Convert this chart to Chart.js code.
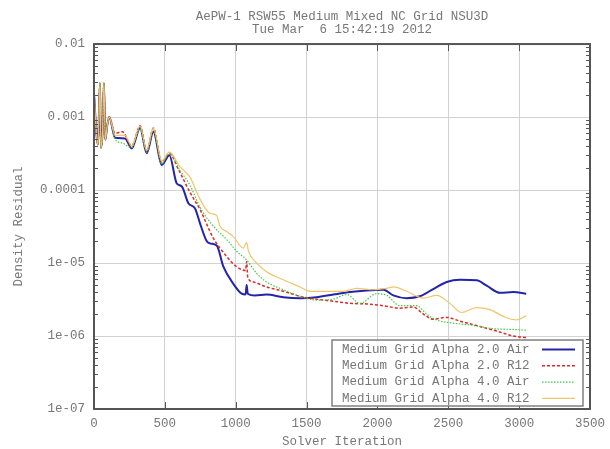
<!DOCTYPE html>
<html>
<head>
<meta charset="utf-8">
<title>Density residual history</title>
<script src="https://cdn.jsdelivr.net/npm/chart.js@4.4.1/dist/chart.umd.min.js"></script>
<style>
  html, body { margin: 0; padding: 0; background: #fff; }
</style>
</head>
<body>
<canvas id="residual-chart" width="610" height="449"></canvas>
<script>
//======================= DATA =======================//
const titleLines = ['AePW-1 RSW55 Medium Mixed NC Grid NSU3D', 'Tue Mar  6 15:42:19 2012'];
const seriesLabels = [
    'Medium Grid Alpha 2.0 Air',
    'Medium Grid Alpha 2.0 R12',
    'Medium Grid Alpha 4.0 Air',
    'Medium Grid Alpha 4.0 R12'
];
const xTickStep = 500;
const xMax = 3500;
const yTickValues = [1e-7, 1e-6, 1e-5, 1e-4, 1e-3, 1e-2];
const yTickLabels = ['1e-07', '1e-06', '1e-05', '0.0001', '0.001', '0.01'];

// start-up transient, the four runs sit on top of each other here
const startIter = [0, 19, 28, 42, 49, 60, 70, 80, 92, 108];
const startRes = [2.1e-3, 5.4e-4, 4.2e-4, 2.9e-3, 3.8e-4, 6.0e-4, 2.9e-3, 4.9e-4, 7.4e-4, 1.0e-3];

const airA2Iter = [148, 219, 266, 325, 372, 419, 478, 532, 584, 620, 666, 713, 748, 795, 818, 866, 913, 983, 1042, 1070, 1077, 1085,
    1136, 1218, 1336, 1454, 1571, 1689, 1807, 1924, 2042, 2112, 2206, 2300, 2394, 2489, 2582, 2700, 2771, 2865, 2959, 3050];
const airA2Res = [5.2e-4, 5.1e-4, 3.7e-4, 7.1e-4, 3.2e-4, 6.3e-4, 2.2e-4, 3.0e-4, 1.23e-4, 1.12e-4, 6.6e-5, 5.6e-5, 3.5e-5, 2.0e-5,
    1.86e-5, 1.74e-5, 8.9e-6, 5.2e-6, 3.8e-6, 3.7e-6, 5.0e-6, 3.8e-6, 3.6e-6, 3.7e-6, 3.4e-6, 3.3e-6, 3.4e-6, 3.7e-6, 4.0e-6,
    4.2e-6, 4.3e-6, 3.6e-6, 3.3e-6, 3.5e-6, 4.4e-6, 5.5e-6, 5.9e-6, 5.8e-6, 4.9e-6, 3.9e-6, 4.0e-6, 3.8e-6];

const r12A2Iter = [148, 200, 266, 325, 372, 419, 478, 532, 594, 677, 748, 842, 936, 1007, 1070, 1077, 1085, 1124, 1218, 1336, 1454,
    1571, 1689, 1807, 1924, 2042, 2159, 2253, 2324, 2394, 2489, 2582, 2723, 2841, 2959, 3050];
const r12A2Res = [6.0e-4, 6.3e-4, 4.0e-4, 7.6e-4, 3.4e-4, 7.1e-4, 2.4e-4, 3.2e-4, 1.95e-4, 9.3e-5, 5.4e-5, 2.2e-5, 1.23e-5, 8.9e-6,
    7.9e-6, 1.05e-5, 6.4e-6, 5.5e-6, 4.7e-6, 4.1e-6, 3.5e-6, 3.2e-6, 3.0e-6, 2.8e-6, 2.75e-6, 2.6e-6, 2.4e-6, 2.5e-6, 2.0e-6,
    1.7e-6, 1.8e-6, 1.6e-6, 1.35e-6, 1.17e-6, 1.0e-6, 9.5e-7];

const airA4Iter = [148, 200, 266, 325, 372, 419, 478, 532, 606, 677, 748, 842, 936, 1007, 1077, 1148, 1218, 1336, 1454, 1571, 1689,
    1783, 1877, 1995, 2066, 2159, 2277, 2347, 2418, 2535, 2676, 2818, 2959, 3050];
const airA4Res = [5.0e-4, 4.4e-4, 3.8e-4, 6.9e-4, 3.3e-4, 6.6e-4, 2.3e-4, 3.2e-4, 1.86e-4, 1.17e-4, 5.8e-5, 3.2e-5, 2.1e-5, 1.45e-5,
    1.1e-5, 7.2e-6, 5.5e-6, 4.3e-6, 3.5e-6, 3.1e-6, 3.2e-6, 3.7e-6, 2.8e-6, 3.8e-6, 3.6e-6, 2.6e-6, 2.6e-6, 2.0e-6, 1.66e-6,
    1.5e-6, 1.4e-6, 1.26e-6, 1.23e-6, 1.2e-6];

const r12A4Iter = [148, 219, 266, 325, 372, 419, 478, 532, 606, 677, 748, 818, 865, 889, 936, 983, 1054, 1077, 1090, 1148, 1218,
    1336, 1454, 1524, 1642, 1760, 1854, 1971, 2066, 2113, 2206, 2324, 2418, 2512, 2594, 2700, 2794, 2888, 2983, 3050];
const r12A4Res = [5.6e-4, 5.6e-4, 4.0e-4, 7.6e-4, 3.5e-4, 7.1e-4, 2.5e-4, 3.3e-4, 2.1e-4, 1.5e-4, 7.5e-5, 4.8e-5, 4.5e-5, 3.2e-5,
    2.7e-5, 2.3e-5, 1.6e-5, 1.9e-5, 1.45e-5, 1.0e-5, 7.6e-6, 5.9e-6, 4.7e-6, 4.1e-6, 4.1e-6, 4.1e-6, 4.5e-6, 4.3e-6, 4.5e-6,
    4.7e-6, 4.1e-6, 3.3e-6, 3.6e-6, 2.8e-6, 2.1e-6, 2.45e-6, 2.3e-6, 1.86e-6, 1.66e-6, 1.9e-6];

//======================= STYLE =======================//
const monoFont = { family: "'Liberation Mono', 'DejaVu Sans Mono', monospace", size: 12.5, lineHeight: 1.2 };
const textColor = '#777777';
const gridColor = '#d2d2d2';
const frameColor = '#555555';

function toPoints(iters, res){
    const pts = [];
    for(let i = 0; i < startIter.length; i++){
        pts.push({ x: startIter[i], y: startRes[i] });
    }
    for(let i = 0; i < iters.length; i++){
        pts.push({ x: iters[i], y: res[i] });
    }
    return pts;
}

//======================= PLUGINS =======================//
// border round the plot plus the small log ticks on both sides
const frameTicks = {
    id: 'frameTicks',
    afterDatasetsDraw(chart){
        const { ctx, chartArea: a, scales } = chart;
        const yScale = scales.y;
        ctx.save();
        ctx.strokeStyle = frameColor;
        ctx.lineWidth = 1;
        ctx.beginPath();
        for(let e = -7; e < -2; e++){
            for(let k = 2; k < 10; k++){
                const y = Math.round(yScale.getPixelForValue(k * Math.pow(10, e))) + 0.5;
                ctx.moveTo(a.left, y); ctx.lineTo(a.left + 4, y);
                ctx.moveTo(a.right, y); ctx.lineTo(a.right - 4, y);
            }
        }
        for(let v = 0; v <= xMax; v += xTickStep){
            const x = Math.round(scales.x.getPixelForValue(v)) + 0.5;
            ctx.moveTo(x, a.top); ctx.lineTo(x, a.top + 7);
            ctx.moveTo(x, a.bottom); ctx.lineTo(x, a.bottom - 7);
        }
        ctx.stroke();
        ctx.lineWidth = 2;
        ctx.strokeRect(a.left, a.top, a.right - a.left, a.bottom - a.top);
        ctx.restore();
    }
};

// key box in the lower right corner: label first, line sample after it
const boxLegend = {
    id: 'boxLegend',
    afterDraw(chart){
        const { ctx, chartArea: a } = chart;
        const w = 251, h = 66;
        const x0 = a.right - 7 - w;
        const y0 = a.bottom - 3 - h;
        ctx.save();
        ctx.fillStyle = '#fff';
        ctx.fillRect(x0, y0, w, h);
        ctx.strokeStyle = '#808080';
        ctx.lineWidth = 1.5;
        ctx.strokeRect(x0, y0, w, h);
        ctx.font = monoFont.size + 'px ' + monoFont.family;
        ctx.textBaseline = 'middle';
        chart.data.datasets.forEach(function(ds, i){
            const y = y0 + 9.5 + i * 16.3;
            ctx.fillStyle = textColor;
            ctx.fillText(ds.label, x0 + 10, y);
            ctx.strokeStyle = ds.borderColor;
            ctx.lineWidth = ds.borderWidth;
            ctx.setLineDash(ds.borderDash || []);
            ctx.beginPath();
            ctx.moveTo(x0 + 210, y);
            ctx.lineTo(x0 + 243, y);
            ctx.stroke();
        });
        ctx.restore();
    }
};

//======================= CHART =======================//
const ctx = document.getElementById('residual-chart').getContext('2d');
const residualChart = new Chart(ctx, {
    type: 'line',
    data: {
        datasets: [{
            label: seriesLabels[0],
            data: toPoints(airA2Iter, airA2Res),
            borderColor: '#2424a8',
            borderWidth: 2,
            order: 3
        }, {
            label: seriesLabels[1],
            data: toPoints(r12A2Iter, r12A2Res),
            borderColor: '#dd2a2a',
            borderWidth: 1.5,
            borderDash: [3, 2],
            order: 2
        }, {
            label: seriesLabels[2],
            data: toPoints(airA4Iter, airA4Res),
            borderColor: '#44c844',
            borderWidth: 1.2,
            borderDash: [1.5, 1.5],
            order: 1
        }, {
            label: seriesLabels[3],
            data: toPoints(r12A4Iter, r12A4Res),
            borderColor: '#efc56a',
            borderWidth: 1.2,
            order: 0
        }]
    },
    options: {
        responsive: false,
        animation: false,
        devicePixelRatio: 1,
        layout: { padding: { left: 0, right: 20, top: 0, bottom: 0 } },
        elements: {
            point: { radius: 0 },
            line: { cubicInterpolationMode: 'monotone', fill: false }
        },
        plugins: {
            legend: { display: false },
            tooltip: { enabled: false },
            title: {
                display: true,
                fullSize: false,
                text: titleLines,
                color: textColor,
                font: { family: monoFont.family, size: 12.5, weight: 'normal', lineHeight: 1.05 },
                padding: { top: 10, bottom: 7.8 }
            }
        },
        scales: {
            x: {
                type: 'linear',
                min: 0,
                max: xMax,
                ticks: {
                    stepSize: xTickStep, color: textColor, font: monoFont, padding: 7, maxRotation: 0,
                    callback: function(value){ return String(value); }
                },
                grid: { color: gridColor, drawTicks: false },
                border: { display: false },
                title: { display: true, text: 'Solver Iteration', color: textColor, font: monoFont, padding: { top: 0, bottom: 0 } },
                afterFit: function(scale){
                    scale.height = 40;
                    scale.paddingLeft = 0;
                    scale.paddingRight = 0;
                }
            },
            y: {
                type: 'logarithmic',
                min: 1e-7,
                max: 1e-2,
                afterBuildTicks: function(scale){
                    scale.ticks = yTickValues.map(v => ({ value: v, major: true }));
                },
                ticks: {
                    color: textColor,
                    font: monoFont,
                    padding: 9,
                    callback: function(value){ return yTickLabels[yTickValues.indexOf(value)]; }
                },
                grid: { color: gridColor, drawTicks: false },
                border: { display: false },
                title: { display: true, text: 'Density Residual', color: textColor, font: monoFont, padding: { top: 11, bottom: 0 } },
                afterFit: function(scale){ scale.width = 94; }
            }
        }
    },
    plugins: [frameTicks, boxLegend]
});
</script>
</body>
</html>
